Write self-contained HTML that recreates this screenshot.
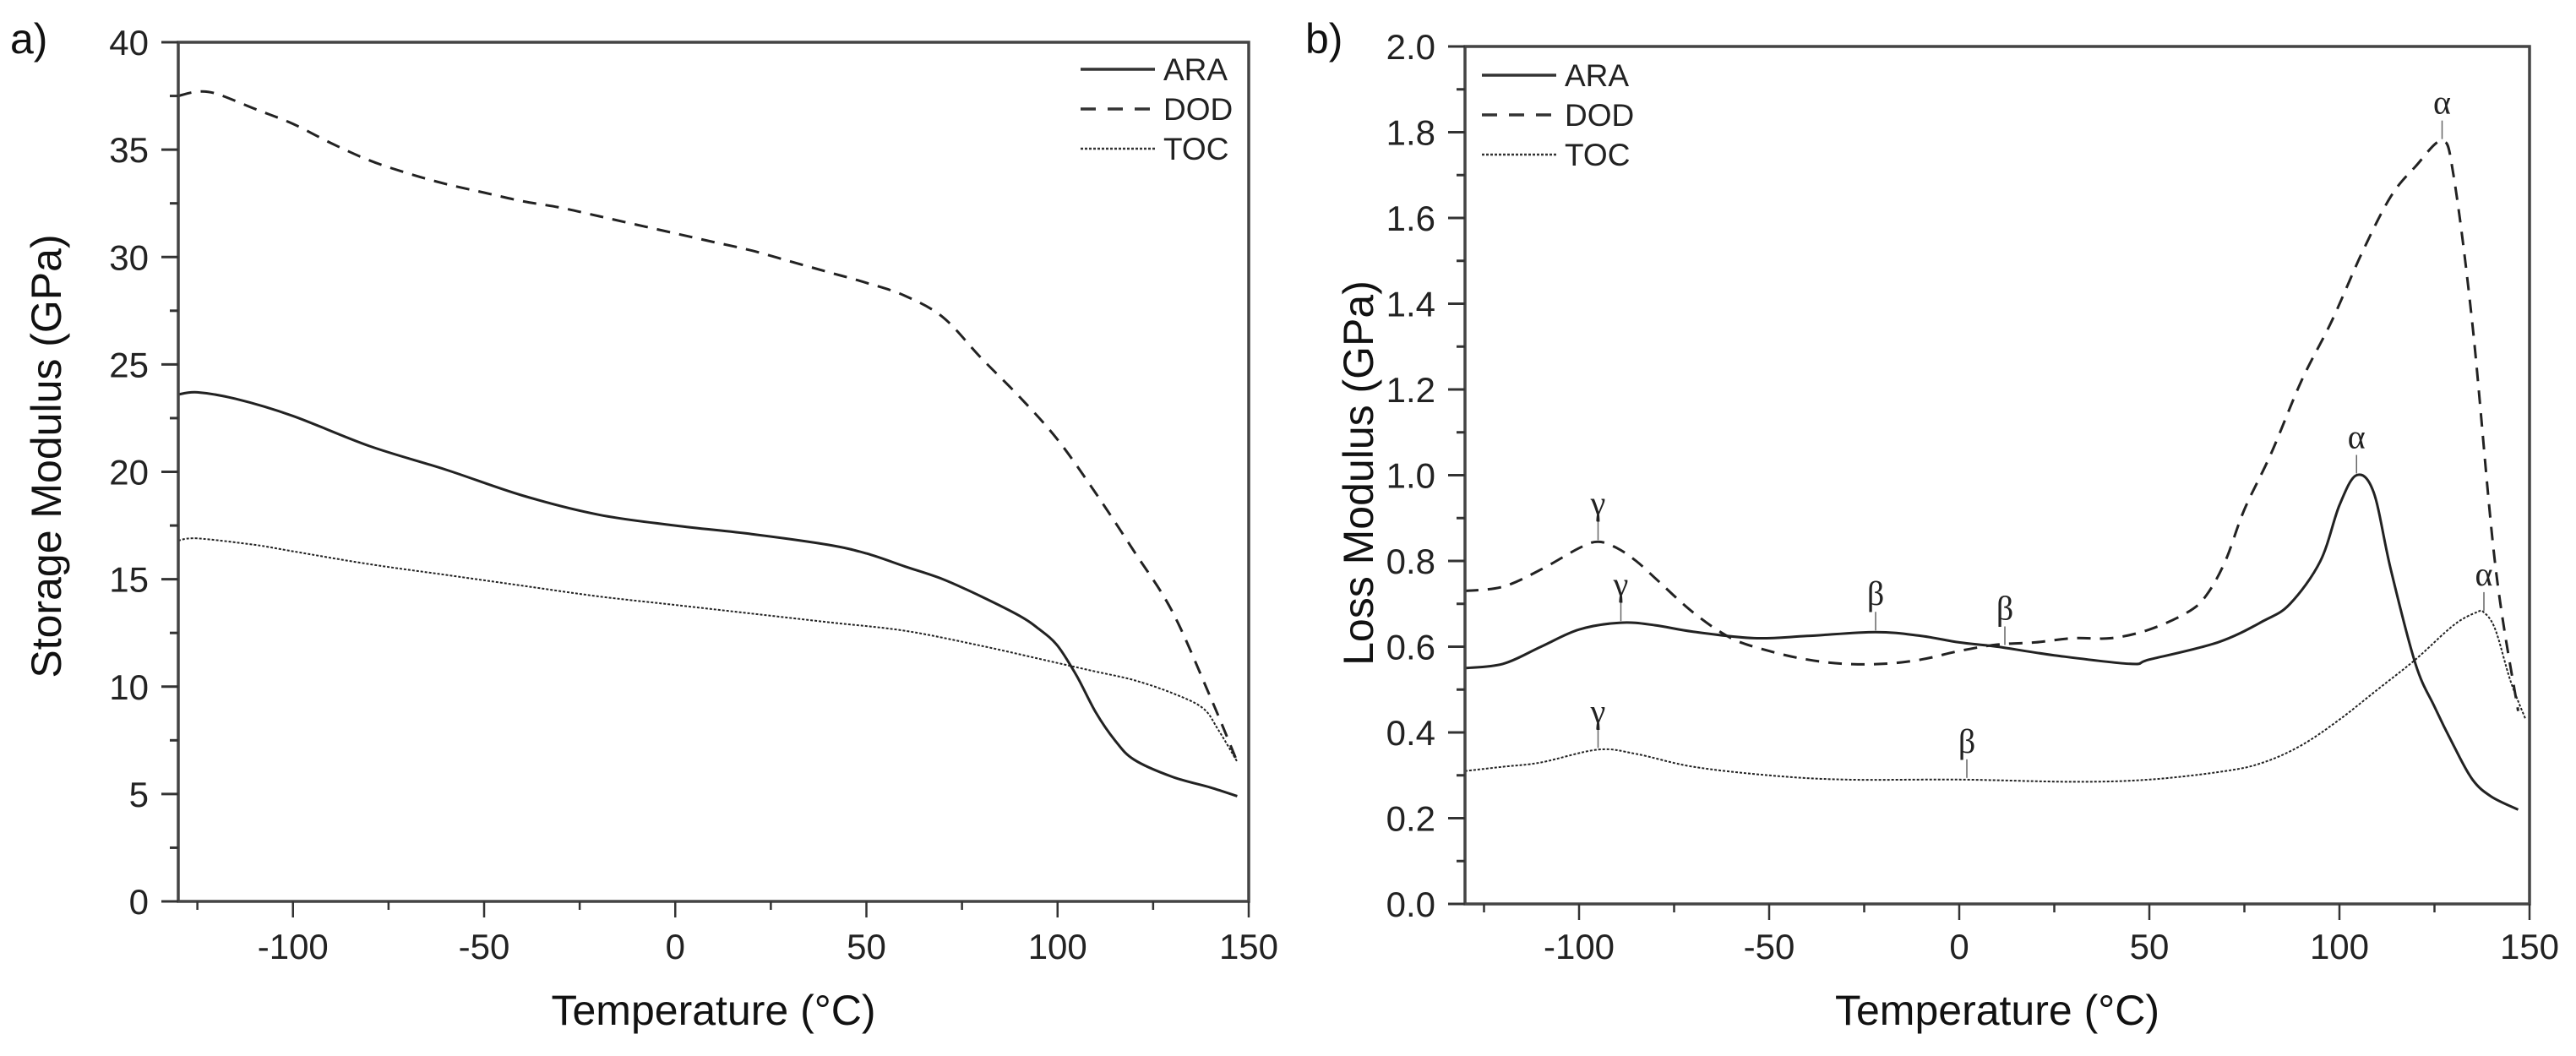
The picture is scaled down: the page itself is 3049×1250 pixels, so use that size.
<!DOCTYPE html>
<html><head><meta charset="utf-8"><style>
html,body{margin:0;padding:0;background:#fff;}
svg{display:block;font-family:"Liberation Sans",Arial,sans-serif;}
</style></head><body>
<svg id="fig" width="3049" height="1250" viewBox="0 0 3049 1250" xmlns="http://www.w3.org/2000/svg">
<rect width="3049" height="1250" fill="#fff"/>
<g id="pa"></g>
<g id="pb"></g>
</svg>
<script>
// ---- Panel a data ----
const tA_DOD = [-130,-125,-120,-110,-100,-90,-80,-70,-60,-50,-40,-30,-20,-10,0,10,20,30,40,50,60,70,80,90,100,110,120,130,140,147];
const vA_DOD = [37.5,37.7,37.6,36.9,36.2,35.3,34.5,33.9,33.4,33.0,32.6,32.3,31.9,31.5,31.1,30.7,30.3,29.8,29.3,28.8,28.2,27.2,25.3,23.5,21.5,19.0,16.3,13.5,9.5,6.5];
const tA_ARA = [-130,-125,-115,-100,-80,-60,-40,-20,0,20,40,50,60,70,80,90,95,100,105,110,115,120,130,140,147];
const vA_ARA = [23.6,23.7,23.4,22.6,21.2,20.1,18.9,18.0,17.5,17.1,16.6,16.2,15.6,15.0,14.2,13.3,12.7,11.9,10.5,8.8,7.5,6.6,5.8,5.3,4.9];
const tA_TOC = [-130,-125,-110,-100,-80,-60,-40,-20,0,20,40,60,80,100,110,120,130,138,142,147];
const vA_TOC = [16.8,16.9,16.6,16.3,15.7,15.2,14.7,14.2,13.8,13.4,13.0,12.6,11.9,11.1,10.7,10.3,9.7,9.0,8.0,6.5];
const yTicksA = [0,5,10,15,20,25,30,35,40];
// ---- Panel b data ----
const tB_ARA = [-130,-120,-110,-100,-89,-80,-70,-54,-40,-22,-10,0,10,25,45,50,68,80,87,95,100,104.5,109,113.5,120,125,130,135,140,147];
const vB_ARA = [0.55,0.56,0.60,0.64,0.656,0.65,0.635,0.62,0.625,0.634,0.625,0.61,0.60,0.58,0.56,0.57,0.61,0.66,0.70,0.80,0.93,1.0,0.96,0.78,0.56,0.46,0.37,0.29,0.25,0.22];
const tB_DOD = [-130,-120,-110,-100,-95,-90,-85,-80,-70,-60,-50,-40,-30,-20,-10,0,10,20,30,40,50,60,65,70,75,82,90,98,106,113.5,120,127,130,135,141,147];
const vB_DOD = [0.73,0.74,0.78,0.83,0.845,0.83,0.80,0.76,0.68,0.62,0.59,0.57,0.56,0.56,0.57,0.59,0.605,0.61,0.62,0.62,0.64,0.68,0.72,0.80,0.92,1.05,1.22,1.36,1.52,1.65,1.72,1.78,1.70,1.35,0.79,0.45];
const tB_TOC = [-130,-120,-110,-95,-85,-70,-50,-30,0,30,50,70,80,90,100,110,120,130,136,138,141,145,149];
const vB_TOC = [0.31,0.32,0.33,0.36,0.35,0.32,0.30,0.29,0.29,0.285,0.29,0.31,0.33,0.37,0.43,0.50,0.57,0.65,0.68,0.68,0.64,0.52,0.43];
const yTicksB = [0.0,0.2,0.4,0.6,0.8,1.0,1.2,1.4,1.6,1.8,2.0];
const xTicks = [-100,-50,0,50,100,150];
const seriesNames = ["ARA","DOD","TOC"];

const NS="http://www.w3.org/2000/svg";
function mk(parent,tag,attrs){const e=document.createElementNS(NS,tag);for(const k in attrs)e.setAttribute(k,attrs[k]);parent.appendChild(e);return e;}
function smooth(pts){let d="M"+pts[0][0].toFixed(1)+","+pts[0][1].toFixed(1);
 for(let i=0;i<pts.length-1;i++){const p0=pts[i-1]||pts[i],p1=pts[i],p2=pts[i+1],p3=pts[i+2]||p2;
  const c1=[p1[0]+(p2[0]-p0[0])/6,p1[1]+(p2[1]-p0[1])/6],c2=[p2[0]-(p3[0]-p1[0])/6,p2[1]-(p3[1]-p1[1])/6];
  d+="C"+c1[0].toFixed(1)+","+c1[1].toFixed(1)+" "+c2[0].toFixed(1)+","+c2[1].toFixed(1)+" "+p2[0].toFixed(1)+","+p2[1].toFixed(1);}
 return d;}
const styles={ARA:{w:3,dash:"none"},DOD:{w:3,dash:"16,11"},TOC:{w:2,dash:"3,2"}};

function panel(g,cfg){
 const X=t=>cfg.x0+(t-(-130))/(280)*(cfg.x1-cfg.x0);
 const Y=v=>cfg.y1-(v-cfg.ymin)/(cfg.ymax-cfg.ymin)*(cfg.y1-cfg.y0);
 // series
 cfg.series.forEach(s=>{
  const pts=s.t.map((t,i)=>[X(t),Y(s.v[i])]);
  const p=mk(g,"path",{d:smooth(pts),fill:"none",stroke:"#222","stroke-width":styles[s.n].w,"stroke-dasharray":styles[s.n].dash});
  
  
 });
 // frame
 const fr=mk(g,"rect",{x:cfg.x0,y:cfg.y0,width:cfg.x1-cfg.x0,height:cfg.y1-cfg.y0,fill:"none",stroke:"#444","stroke-width":3.5});
 
 
 // x ticks
 for(let t=-125;t<=150;t+=25){const maj=(t%50===0);
  const l=mk(g,"line",{x1:X(t),x2:X(t),y1:cfg.y1,y2:cfg.y1+(maj?19:10),stroke:"#333","stroke-width":2.5});
  
  }
 xTicks.forEach(t=>{const tx=mk(g,"text",{x:X(t),y:1135,"font-size":42,"text-anchor":"middle",fill:"#222"});tx.textContent=t;
  
  });
 // y ticks
 const ys=cfg.yticks, step=ys[1]-ys[0];
 for(let i=0;i<ys.length;i++){
  const v=ys[i];
  const l=mk(g,"line",{x1:cfg.x0-20,x2:cfg.x0,y1:Y(v),y2:Y(v),stroke:"#333","stroke-width":3});
  
  
  if(i<ys.length-1){const m=mk(g,"line",{x1:cfg.x0-10,x2:cfg.x0,y1:Y(v+step/2),y2:Y(v+step/2),stroke:"#333","stroke-width":3});
   
   }
  const tx=mk(g,"text",{x:cfg.x0-35,y:Y(v)+15,"font-size":42,"text-anchor":"end",fill:"#222"});tx.textContent=cfg.fmt(v);
  
  
 }
 // titles
 const xt=mk(g,"text",{x:(cfg.x0+cfg.x1)/2,y:1213,"font-size":50,"text-anchor":"middle",fill:"#111"});xt.textContent="Temperature (°C)";
 
 
 const yt=mk(g,"text",{x:0,y:0,"font-size":50,"text-anchor":"middle",fill:"#111",transform:`translate(${cfg.ytx},${cfg.yty}) rotate(-90)`});yt.textContent=cfg.ytitle;
 
 
 const pl=mk(g,"text",{x:cfg.labx,y:63,"font-size":50,fill:"#111"});pl.textContent=cfg.lab;
 
 
 // legend
 seriesNames.forEach((n,i)=>{const yy=cfg.legy+i*47;
  const ln=mk(g,"line",{x1:cfg.legx,x2:cfg.legx+88,y1:yy,y2:yy,stroke:"#333","stroke-width":styles[n].w+0.5,"stroke-dasharray":n==="DOD"?"18,14":n==="TOC"?"3,2":"none"});
  
  
  const tx=mk(g,"text",{x:cfg.legx+98,y:yy+13,"font-size":37,fill:"#222"});tx.textContent=n;
  
  });
 return {X,Y};
}

panel(document.getElementById("pa"),{x0:211,x1:1478,y0:50,y1:1067,ymin:0,ymax:40,yticks:yTicksA,fmt:v=>String(v),
 series:[{n:"ARA",t:tA_ARA,v:vA_ARA},{n:"DOD",t:tA_DOD,v:vA_DOD},{n:"TOC",t:tA_TOC,v:vA_TOC}],
 ytitle:"Storage Modulus (GPa)",ytx:72,yty:540,lab:"a)",labx:12,legx:1279,legy:82});
const B=panel(document.getElementById("pb"),{x0:1734,x1:2994,y0:55,y1:1070,ymin:0,ymax:2,yticks:yTicksB,fmt:v=>v.toFixed(1),
 series:[{n:"ARA",t:tB_ARA,v:vB_ARA},{n:"DOD",t:tB_DOD,v:vB_DOD},{n:"TOC",t:tB_TOC,v:vB_TOC}],
 ytitle:"Loss Modulus (GPa)",ytx:1625,yty:560,lab:"b)",labx:1545,legx:1754,legy:89});

// transition annotations: [symbol, temperature, value at peak, label height above]
const annSym = ["γ","γ","γ","β","β","β","α","α","α"];
const annT   = [-89,-95,-95,-22,12,2,104.5,127,138];
const annV   = [0.656,0.845,0.36,0.634,0.60,0.29,1.0,1.78,0.68];
const gb=document.getElementById("pb");
annSym.forEach((s,i)=>{
 const x=B.X(annT[i]), y=B.Y(annV[i]);
 const l=mk(gb,"line",{x1:x,x2:x,y1:y-2,y2:y-24,stroke:"#666","stroke-width":1.5});
 
 
 const t=mk(gb,"text",{x:x,y:y-32,"font-size":40,"text-anchor":"middle",fill:"#222","font-family":"Liberation Serif, DejaVu Serif, serif"});
 t.textContent=s;
 
 
});
</script>
</body></html>
